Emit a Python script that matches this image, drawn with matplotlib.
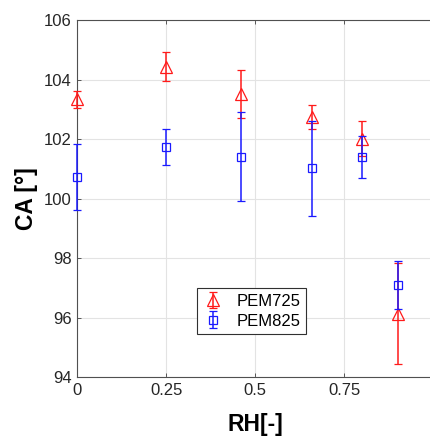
import matplotlib
matplotlib.use("Agg")
import matplotlib.pyplot as plt

# data
rh = [0, 0.25, 0.46, 0.66, 0.8, 0.9]
pem725 = [103.33, 104.43, 103.51, 102.75, 102.02, 96.14]
pem725_err = [0.3, 0.48, 0.8, 0.4, 0.58, 1.7]
pem825 = [100.73, 101.73, 101.41, 101.02, 101.41, 97.09]
pem825_err = [1.1, 0.6, 1.5, 1.6, 0.7, 0.8]
xticks = [0, 0.25, 0.5, 0.75]
xtick_labels = ['0', '0.25', '0.5', '0.75']
yticks = [94, 96, 98, 100, 102, 104, 106]

plt.rcParams['font.family'] = ['Liberation Sans', 'DejaVu Sans']

fig = plt.figure(figsize=(4.30, 4.36), dpi=100)
# the original figure is cropped at the right: the axes run up to the figure edge
ax = fig.add_axes([77/430, 1 - 377.3/436, 1 - 77/430, (377.3 - 20)/436])
ax.patch.set_linewidth(0)

c1 = ax.errorbar(rh, pem725, yerr=pem725_err, fmt='^', color='#ff1a1a', mfc='none',
                 mec='#ff1a1a', ms=8, mew=0.9, elinewidth=1.1, capsize=3, capthick=1.1,
                 label='PEM725', zorder=3)
c2 = ax.errorbar(rh, pem825, yerr=pem825_err, fmt='s', color='#1a1aff', mfc='none',
                 mec='#1a1aff', ms=5.6, mew=0.9, elinewidth=1.1, capsize=3, capthick=1.1,
                 label='PEM825', zorder=4)
for cont in (c1, c2):
    for art in cont.get_children():
        art.set_clip_on(False)

ax.set_xlim(0, (430 - 77) / (433.5 - 77))
ax.set_ylim(94, 106)
ax.set_xticks(xticks)
ax.set_xticklabels(xtick_labels)
ax.set_yticks(yticks)
ax.grid(True, color='#e3e3e3', lw=0.8)
ax.set_axisbelow(True)
ax.tick_params(direction='in', length=3, width=0.6, colors='#404040',
               labelsize=12, labelcolor='#262626', top=True, right=False, pad=4)
for s in ax.spines.values():
    s.set_color('#505050')
    s.set_linewidth(0.8)
ax.spines['right'].set_visible(False)

ax.set_xlabel('RH[-]', fontsize=16.5, fontweight='bold', labelpad=5)
ax.set_ylabel('CA [°]', fontsize=16.5, fontweight='bold', labelpad=4)
ax.xaxis.set_label_coords((255 - 77) / (430 - 77), -0.0)
ax.xaxis.label.set_va('top')
ax.xaxis.set_label_coords((255 - 77) / (430 - 77), -(413 - 377.3) / (377.3 - 20))

leg = ax.legend(loc='upper left', bbox_to_anchor=(197/430, 1 - 288/436),
                bbox_transform=fig.transFigure, borderaxespad=0, fancybox=False,
                framealpha=1, edgecolor='#303030', fontsize=12, handlelength=1.2,
                handletextpad=0.8, borderpad=0.35, labelspacing=0.28)
leg.get_frame().set_linewidth(0.8)

fig.savefig('out.png', dpi=100, facecolor='white')
